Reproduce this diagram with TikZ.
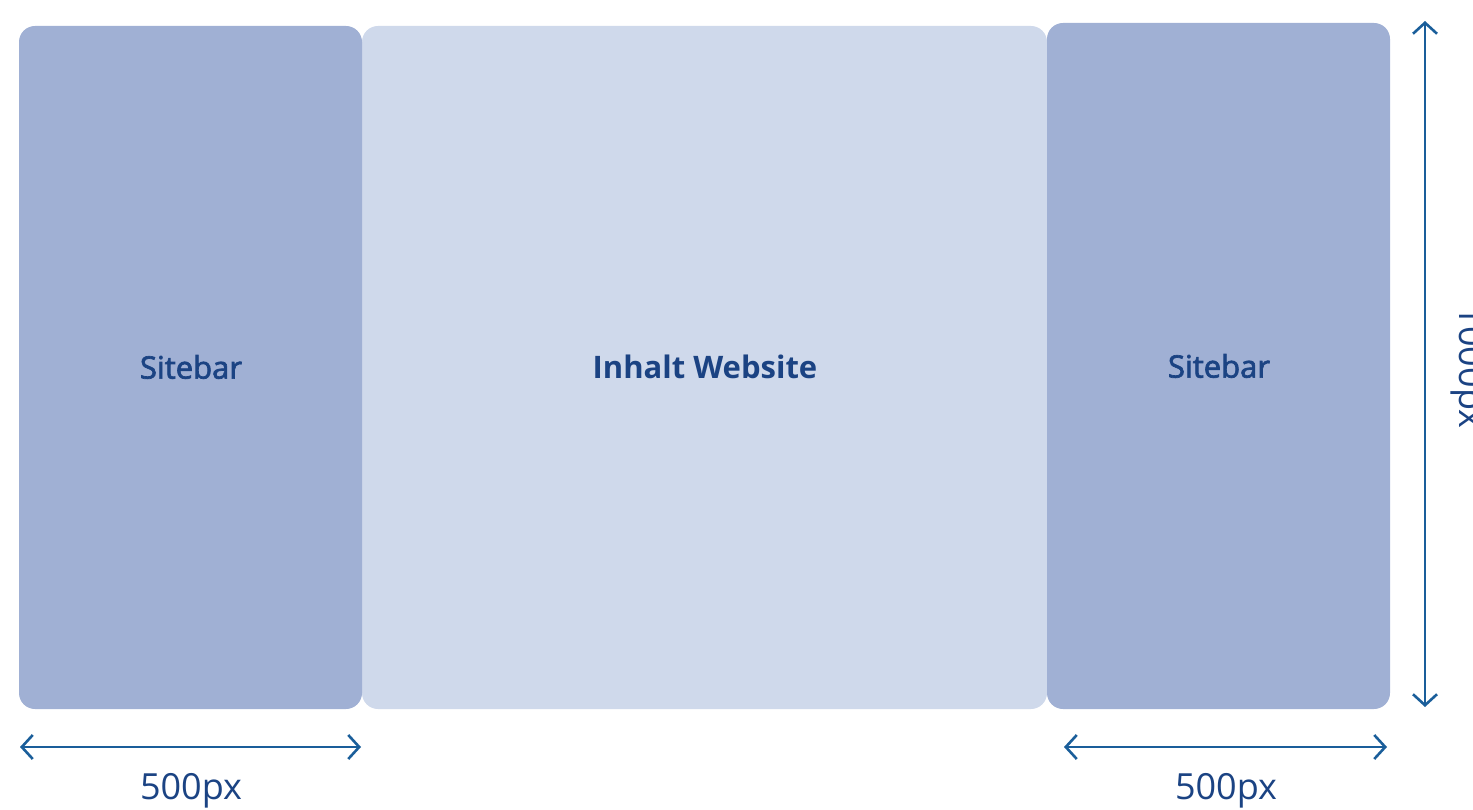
\documentclass[tikz,border=0pt]{standalone}
\usepackage{fontspec}
\setmainfont{Open Sans}
\newfontfamily\firamed{Open Sans}[UprightFeatures={FakeBold=2.2}]
\usetikzlibrary{arrows.meta}
\definecolor{sidebox}{HTML}{A0B0D4}
\definecolor{mainbox}{HTML}{CFD9EB}
\definecolor{txtblue}{HTML}{1B4383}
\definecolor{arrblue}{HTML}{1A5E9A}
\tikzset{
  panel/.style={rounded corners=16pt, draw=none, inner sep=0pt},
  dimarrow/.style={draw=arrblue, line width=2.6pt, {Straight Barb[length=11pt,width=24pt,line width=2.6pt]}-{Straight Barb[length=11pt,width=24pt,line width=2.6pt]}},
  boxlabel/.style={text=txtblue, font=\firamed\fontsize{31}{36}\selectfont},
  mainlabel/.style={text=txtblue, font=\bfseries\fontsize{31}{36}\selectfont},
  dimlabel/.style={text=txtblue, font=\fontsize{36}{42}\selectfont}
}
\begin{document}
\begin{tikzpicture}[x=1pt,y=-1pt]
\useasboundingbox (0,0) rectangle (1473,810);
% panels
\fill[mainbox, panel] (362,26) rectangle (1047,709);
\fill[sidebox, panel] (19,26) rectangle (362,709);
\fill[sidebox, panel] (1047,23) rectangle (1390,709);
\node[boxlabel] (left) at (191,367) {Sitebar};
\node[mainlabel] (main) at (705,367) {Inhalt Website};
\node[boxlabel] (right) at (1219,366) {Sitebar};
% dimension arrows
\coordinate (la) at (20,747);
\coordinate (lb) at (361,747);
\coordinate (ra) at (1064,747);
\coordinate (rb) at (1387,747);
\coordinate (va) at (1425,21);
\coordinate (vb) at (1425,707);
\draw[dimarrow] (la) -- (lb);
\draw[dimarrow] (ra) -- (rb);
\draw[dimarrow] (va) -- (vb);
\node[dimlabel] (lw) at (191,791) {500px};
\node[dimlabel] (rw) at (1226,791) {500px};
\node[dimlabel, rotate=-90, anchor=base] (vh) at (1459,367) {1000px};
\end{tikzpicture}
\end{document}
